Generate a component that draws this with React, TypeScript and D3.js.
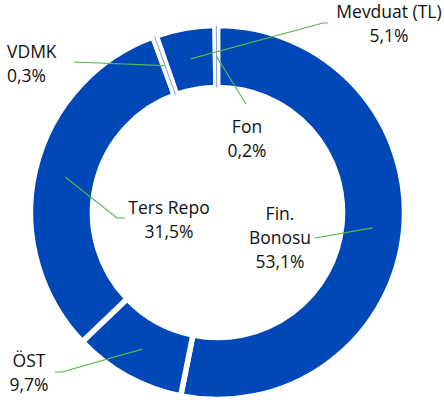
import { useEffect, useRef } from "react";
import * as d3 from "d3";

// slices, clockwise from 12 o'clock
const categories = ["Fin. Bonosu", "ÖST", "Ters Repo", "VDMK", "Mevduat (TL)", "Fon"];
const shares = [53.1, 9.7, 31.5, 0.3, 5.1, 0.2];

// label placement: text anchor, baseline of first line, optional elbow of leader line
const labelX = [280, 29, 169, 7, 389, 247];
const labelY = [220, 367, 214, 58, 18, 133];
const labelAnchor = ["middle", "middle", "middle", "start", "middle", "middle"];
const leaderStart: [number, number][] = [[315, 238], [55, 372], [125, 218], [74, 62], [328, 23], [246, 104]];
const leaderElbow: ([number, number] | null)[] = [null, [62, 372], [117, 218], null, [323, 23], null];

const fmt = (v: number) => v.toFixed(1).replace(".", ",") + "%";

const App = () => {
  const svgRef = useRef<SVGSVGElement>(null);

  useEffect(() => {
    if (!svgRef.current) return;
    d3.select(svgRef.current).selectAll("*").remove();

    const width = 444;
    const height = 405;
    const cx = 217.5;
    const cy = 212.5;
    const outer = 187;
    const inner = 125;

    const svg = d3.select(svgRef.current)
      .attr("width", width)
      .attr("height", height)
      .attr("viewBox", `0 0 ${width} ${height}`);

    const data = categories.map((c, i) => ({ name: c, value: shares[i], i }));
    const pie = d3.pie<typeof data[0]>().value(d => d.value).sort(null);
    const arcs = pie(data);
    const arc = d3.arc<d3.PieArcDatum<typeof data[0]>>().innerRadius(inner).outerRadius(outer);

    const g = svg.append("g").attr("transform", `translate(${cx},${cy})`);

    g.selectAll(".slice")
      .data(arcs)
      .join("path")
      .attr("class", "slice")
      .attr("d", arc)
      .attr("fill", "#0047B8")
      .attr("stroke", "#fff")
      .attr("stroke-width", 5.5)
      .attr("stroke-linejoin", "miter");

    // very thin slices show up as a pale line inside the gap
    g.selectAll(".thin")
      .data(arcs.filter(a => a.data.value < 1))
      .join("line")
      .attr("class", "thin")
      .each(function (d) {
        const mid = (d.startAngle + d.endAngle) / 2;
        const [x1, y1] = d3.pointRadial(mid, inner);
        const [x2, y2] = d3.pointRadial(mid, outer);
        d3.select(this).attr("x1", x1).attr("y1", y1).attr("x2", x2).attr("y2", y2);
      })
      .attr("stroke", "#7f9edd")
      .attr("stroke-width", 1);

    // leader lines
    const line = d3.line();
    svg.selectAll(".leader")
      .data(arcs)
      .join("path")
      .attr("class", "leader")
      .attr("d", d => {
        const [x, y] = arc.centroid(d);
        const pts: [number, number][] = [leaderStart[d.data.i]];
        const e = leaderElbow[d.data.i];
        if (e) pts.push(e);
        pts.push([cx + x, cy + y]);
        return line(pts);
      })
      .attr("fill", "none")
      .attr("stroke", "#57B947")
      .attr("stroke-width", 1.2);

    // labels
    const lab = svg.selectAll(".label")
      .data(arcs)
      .join("text")
      .attr("class", "label")
      .attr("text-anchor", d => labelAnchor[d.data.i])
      .style("font-family", "'Open Sans', sans-serif")
      .style("font-size", "17.5px")
      .style("fill", "#111");

    lab.each(function (d) {
      const i = d.data.i;
      const lines = i === 0 ? d.data.name.split(" ") : [d.data.name];
      lines.push(fmt(d.data.value));
      d3.select(this).selectAll("tspan")
        .data(lines)
        .join("tspan")
        .attr("x", labelX[i])
        .attr("y", (_, k) => labelY[i] + k * 24)
        .text(t => t);
    });
  }, []);

  return (
    <svg ref={svgRef} style={{ position: "absolute", left: 0, top: 0, background: "#fff" }}></svg>
  );
};

export default App;
